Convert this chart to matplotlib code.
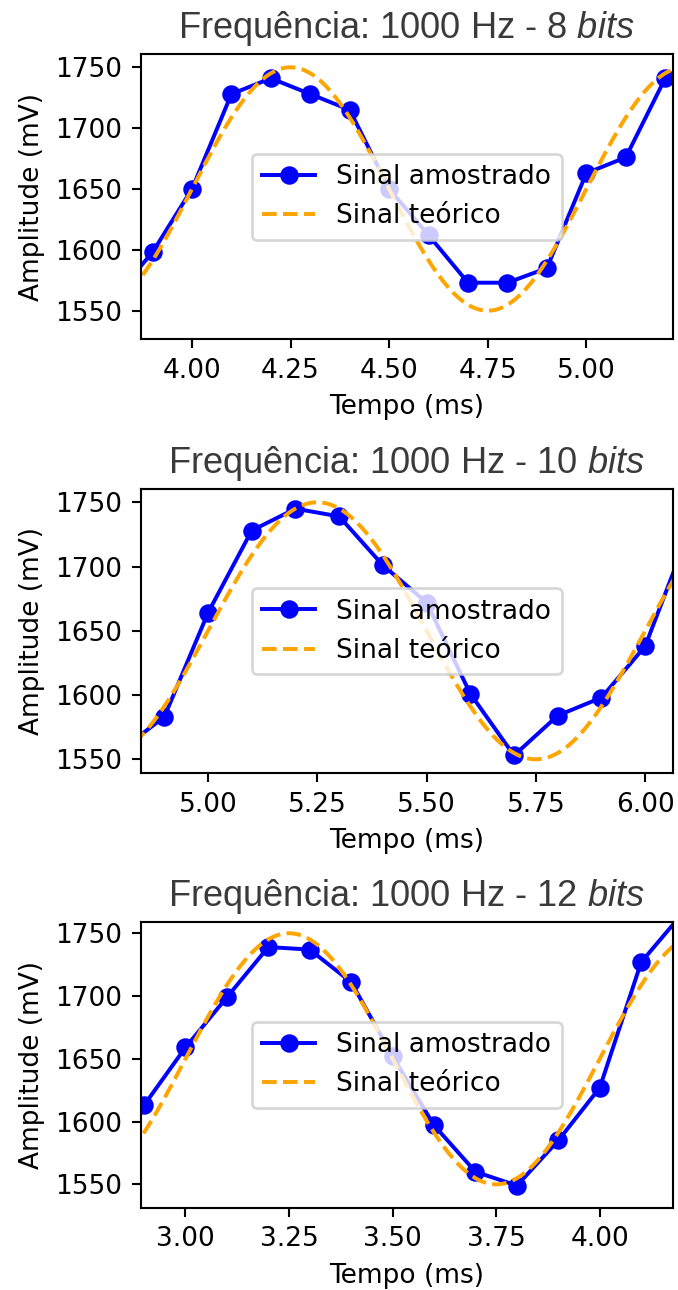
import numpy as np
import matplotlib.pyplot as plt
from matplotlib.ticker import MultipleLocator, FormatStrFormatter

plt.rcParams['mathtext.fontset'] = 'custom'
plt.rcParams['mathtext.rm'] = 'Liberation Sans'
plt.rcParams['mathtext.it'] = 'Liberation Sans:italic'

# sinal teorico: 1650 mV +/- 100 mV, 1000 Hz
offset_mv = 1650
amp_mv = 100
freq_hz = 1000

# amostras (tempo em ms, amplitude em mV)
t_8 = [3.8, 3.9, 4.0, 4.1, 4.2, 4.3, 4.4, 4.5, 4.6, 4.7, 4.8, 4.9, 5.0, 5.1, 5.2, 5.3]
v_8 = [1560, 1598, 1650, 1728, 1741, 1728, 1715, 1650, 1612, 1573, 1573, 1585, 1663, 1676, 1741, 1741]

t_10 = [4.8, 4.9, 5.0, 5.1, 5.2, 5.3, 5.4, 5.5, 5.6, 5.7, 5.8, 5.9, 6.0, 6.1]
v_10 = [1557, 1583, 1664, 1728, 1745, 1739, 1701, 1672, 1601, 1553, 1584, 1598, 1638, 1727]

t_12 = [2.8, 2.9, 3.0, 3.1, 3.2, 3.3, 3.4, 3.5, 3.6, 3.7, 3.8, 3.9, 4.0, 4.1, 4.2]
v_12 = [1580, 1613, 1659, 1699, 1739, 1737, 1711, 1652, 1597, 1560, 1549, 1585, 1627, 1727, 1766]

bits = [8, 10, 12]
xlims = [(3.870, 5.219), (4.846, 6.063), (2.892, 4.176)]
ylims = [(1526.5, 1760.7), (1539.1, 1760.1), (1531.4, 1759.2)]


def theoretical(t_ms):
    return offset_mv + amp_mv * np.sin(2 * np.pi * freq_hz * t_ms / 1000)


W, H = 678, 1290
DPI = 190
fig = plt.figure(figsize=(W / DPI, H / DPI), dpi=DPI)

# posicao dos eixos em pixels: (topo, base)
boxes = [(54.3, 339.3), (489.3, 773.3), (921.7, 1207.7)]
left_px, right_px = 140.7, 672.7

series = [(t_8, v_8), (t_10, v_10), (t_12, v_12)]
for (t, v), nb, xl, yl, (top, bot) in zip(series, bits, xlims, ylims, boxes):
    ax = fig.add_axes([left_px / W, 1 - bot / H, (right_px - left_px) / W, (bot - top) / H])
    ax.plot(t, v, 'o-', color='blue', label='Sinal amostrado')
    tt = np.linspace(t[0] - 0.1, t[-1] + 0.1, 600)
    ax.plot(tt, theoretical(tt), '--', color='orange', label='Sinal teórico')
    ax.set_xlim(xl)
    ax.set_ylim(yl)
    ax.set_yticks([1550, 1600, 1650, 1700, 1750])
    ax.xaxis.set_major_locator(MultipleLocator(0.25))
    ax.xaxis.set_major_formatter(FormatStrFormatter('%.2f'))
    ax.set_title(f'Frequência: 1000 Hz - {nb} $\\it{{bits}}$', fontsize=13.75,
                 family='Liberation Sans', color='#3a3a3a')
    ax.set_xlabel('Tempo (ms)')
    ax.set_ylabel('Amplitude (mV)')
    ax.legend(loc='center')

fig.savefig('out.png', dpi=DPI)
